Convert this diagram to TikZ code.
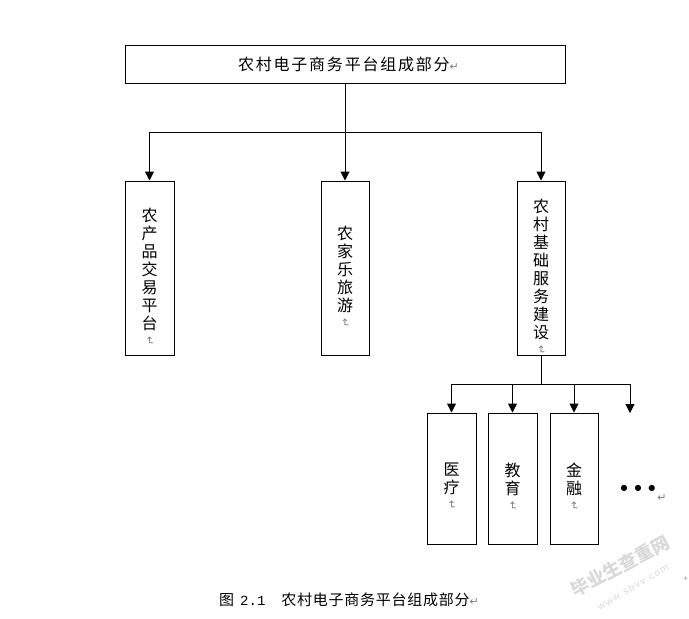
\documentclass[tikz,border=0pt]{standalone}
\usepackage{fontspec}
\usetikzlibrary{arrows.meta}
\newfontfamily\cjk[LetterSpace=11]{Noto Sans CJK SC}
\newfontfamily\cjkcap[LetterSpace=5]{Noto Sans CJK SC}
\newfontfamily\cjkwm{Noto Sans CJK SC}
\newfontfamily\djv{DejaVu Sans}
\newfontfamily\mon{Liberation Mono}
\newfontfamily\wmlat[LetterSpace=14]{Liberation Sans}
\newcommand{\retmark}{{\djv\fontsize{11}{11}\selectfont\textcolor{markgray}{↵}}}
\newcommand{\vretmark}{\raisebox{3pt}{\rotatebox[origin=c]{-90}{\retmark}}}
\definecolor{markgray}{gray}{0.5}
\definecolor{wmgray}{gray}{0.85}
\tikzset{
  box/.style={draw=black,line width=1pt,inner sep=0pt,align=center,font=\cjk\fontsize{16}{18}\selectfont},
  tall/.style={box,minimum width=48pt,minimum height=174pt},
  short/.style={box,minimum height=131pt},
  conn/.style={draw=black,line width=1pt},
  arr/.style={conn,-{Triangle[width=9pt,length=9pt]}},
  free/.style={inner sep=0pt}
}
\begin{document}
\begin{tikzpicture}[x=1pt,y=-1pt]
\useasboundingbox[fill=white] (0,0) rectangle (689,619);
\node[box,minimum width=440pt,minimum height=38pt] (top) at (345,64) {\hspace*{7pt}农村电子商务平台组成部分\retmark};
\node[tall,minimum width=49pt] (b1) at (149.5,268) {\strut\\农\\产\\品\\交\\易\\平\\台\\\vretmark};
\node[tall] (b2) at (345,268) {\strut\\农\\家\\乐\\旅\\游\\\vretmark};
\node[tall,inner ysep=-6pt] (b3) at (541,268) {\strut\\农\\村\\基\\础\\服\\务\\建\\设\\\vretmark};
\node[short,minimum width=49pt] (c1) at (451.5,478.5) {\strut\\医\\疗\\\vretmark};
\node[short,minimum width=49pt] (c2) at (512.5,478.5) {\strut\\教\\育\\\vretmark};
\node[short,minimum width=48pt] (c3) at (574,478.5) {\strut\\金\\融\\\vretmark};
\coordinate (more) at (630,413);
\draw[arr] (top.south) -- (b2.north);
\draw[arr] (top.south) -- ++(0,49) -| (b1.north);
\draw[arr] (top.south) -- ++(0,49) -| (b3.north);
\draw[conn] (b3.south) -- ++(0,29) coordinate (fork);
\draw[arr] (fork) -| (c1.north);
\draw[arr] (fork) -| (c2.north);
\draw[arr] (fork) -| (c3.north);
\draw[arr] (fork) -| (more);
\node[free] (dots) at (638,488) {\djv\fontsize{8}{8}\selectfont ●\hspace{6.8pt}●\hspace{6.8pt}●};
\node[free] (dotsmark) at (662,498) {\retmark};
\node[free,anchor=west] (cap) at (219,600) {\cjkcap\fontsize{15}{15}\selectfont 图\hspace{6pt}{\mon\fontsize{14}{14}\selectfont 2.1}\hspace{16pt}农村电子商务平台组成部分\retmark};
\node[free,rotate=28,text=wmgray] (wm1) at (620,566) {\cjkwm\fontsize{18}{18}\selectfont\bfseries 毕业生查重网};
\node[free,rotate=31,text=wmgray] (wm2) at (633,587) {\wmlat\fontsize{10}{10}\selectfont www.sbvv.com};
\node[free,text=markgray] (pm) at (686,579) {\djv\fontsize{6}{6}\selectfont +};
\end{tikzpicture}
\end{document}
